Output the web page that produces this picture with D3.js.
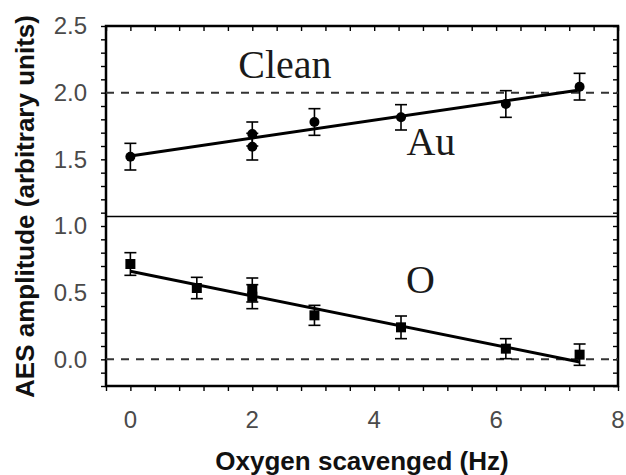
<!DOCTYPE html>
<html>
<head>
<meta charset="utf-8">
<script src="https://cdn.jsdelivr.net/npm/d3@7"></script>
<style>
  html, body { margin: 0; padding: 0; background: #fff; }
  svg { display: block; }
</style>
</head>
<body>
<svg id="chart" width="626" height="475"></svg>
<script>
// ---- data ----
const auX = [0, 2, 2, 3.02, 4.44, 6.16, 7.37];
const auY = [1.52, 1.69, 1.595, 1.78, 1.815, 1.915, 2.045];
const auErr = [0.1, 0.09, 0.1, 0.1, 0.095, 0.1, 0.1];
const auFit = [[0, 1.525], [7.37, 2.02]];

const oX = [0, 1.09, 2, 2, 3.02, 4.44, 6.16, 7.37];
const oY = [0.715, 0.535, 0.52, 0.47, 0.33, 0.24, 0.08, 0.035];
const oErr = [0.085, 0.08, 0.09, 0.09, 0.075, 0.085, 0.075, 0.08];
const oFit = [[0, 0.66], [7.37, -0.02]];

const refLines = [2.0, 0.0];
const dividerY = 1.077;

const xTickLabels = [0, 2, 4, 6, 8];
const yTickLabels = [0.0, 0.5, 1.0, 1.5, 2.0, 2.5];
const xLabel = "Oxygen scavenged (Hz)";
const yLabel = "AES amplitude (arbitrary units)";
const annotations = [
  { text: "Clean", x: 1.77, y: 2.108 },
  { text: "Au", x: 4.53, y: 1.533 },
  { text: "O", x: 4.52, y: 0.494 }
];

// ---- layout ----
const W = 626, H = 475;
const margin = { left: 106, top: 26, right: 8, bottom: 89 };
const x = d3.scaleLinear().domain([-0.4, 8]).range([margin.left, W - margin.right]);
const y = d3.scaleLinear().domain([-0.2, 2.5]).range([H - margin.bottom, margin.top]);

const svg = d3.select("#chart");

const xMinor = d3.range(-0.4, 8.001, 0.4).map(v => +v.toFixed(2));
const yMinor = d3.range(-0.2, 2.5001, 0.1).map(v => +v.toFixed(2));

const tickFont = "'Liberation Sans', Arial, sans-serif";

const gB = svg.append("g").attr("transform", `translate(0,${y.range()[0]})`)
  .call(d3.axisBottom(x).tickValues(xMinor).tickSize(5).tickFormat(""));
const gT = svg.append("g").attr("transform", `translate(0,${y.range()[1]})`)
  .call(d3.axisBottom(x).tickValues(xMinor).tickSize(5).tickFormat(""));
const gL = svg.append("g").attr("transform", `translate(${x.range()[0]},0)`)
  .call(d3.axisLeft(y).tickValues(yMinor).tickSize(5).tickFormat(""));
const gR = svg.append("g").attr("transform", `translate(${x.range()[1]},0)`)
  .call(d3.axisLeft(y).tickValues(yMinor).tickSize(5).tickFormat(""));

[gB, gT, gL, gR].forEach(g => {
  g.select(".domain").remove();
  g.selectAll(".tick line").attr("stroke", "#000").attr("stroke-width", 1.4);
});

svg.append("g").selectAll("text").data(xTickLabels).join("text")
  .attr("x", d => x(d)).attr("y", y.range()[0] + 42)
  .attr("text-anchor", "middle")
  .attr("font-family", tickFont).attr("font-size", 24).attr("fill", "#4a4a4a")
  .text(d => d3.format("d")(d));

svg.append("g").selectAll("text").data(yTickLabels).join("text")
  .attr("x", x.range()[0] - 19).attr("y", d => y(d))
  .attr("dy", "0.35em")
  .attr("text-anchor", "end")
  .attr("font-family", tickFont).attr("font-size", 24).attr("fill", "#4a4a4a")
  .text(d => d3.format(".1f")(d));

svg.append("rect")
  .attr("x", x.range()[0]).attr("y", y.range()[1])
  .attr("width", x.range()[1] - x.range()[0])
  .attr("height", y.range()[0] - y.range()[1])
  .attr("fill", "none").attr("stroke", "#000").attr("stroke-width", 2.5);

svg.append("line")
  .attr("x1", x.range()[0]).attr("x2", x.range()[1])
  .attr("y1", Math.round(y(dividerY)) + 0.5).attr("y2", Math.round(y(dividerY)) + 0.5)
  .attr("stroke", "#000").attr("stroke-width", 1.3);

svg.append("g").selectAll("line").data(refLines).join("line")
  .attr("x1", x.range()[0]).attr("x2", x.range()[1])
  .attr("y1", d => y(d)).attr("y2", d => y(d))
  .attr("stroke", "#333").attr("stroke-width", 2)
  .attr("stroke-dasharray", "8,7");

const line = d3.line().x(d => x(d[0])).y(d => y(d[1]));
[auFit, oFit].forEach(f => {
  svg.append("path").attr("d", line(f))
    .attr("fill", "none").attr("stroke", "#000").attr("stroke-width", 3);
});

function errorBars(xs, ys, es) {
  const g = svg.append("g").attr("stroke", "#000").attr("stroke-width", 1.6);
  xs.forEach((xv, i) => {
    const cx = x(xv), top = y(ys[i] + es[i]), bot = y(ys[i] - es[i]);
    g.append("line").attr("x1", cx).attr("x2", cx).attr("y1", top).attr("y2", bot);
    g.append("line").attr("x1", cx - 6).attr("x2", cx + 6).attr("y1", top).attr("y2", top);
    g.append("line").attr("x1", cx - 6).attr("x2", cx + 6).attr("y1", bot).attr("y2", bot);
  });
}
errorBars(auX, auY, auErr);
errorBars(oX, oY, oErr);

svg.append("g").selectAll("circle").data(auX.map((d, i) => [d, auY[i]])).join("circle")
  .attr("cx", d => x(d[0])).attr("cy", d => y(d[1])).attr("r", 5)
  .attr("fill", "#000");
svg.append("g").selectAll("rect").data(oX.map((d, i) => [d, oY[i]])).join("rect")
  .attr("x", d => x(d[0]) - 5).attr("y", d => y(d[1]) - 5)
  .attr("width", 10).attr("height", 10)
  .attr("fill", "#000");

svg.append("g").selectAll("text").data(annotations).join("text")
  .attr("x", d => x(d.x)).attr("y", d => y(d.y))
  .attr("font-family", "'Liberation Serif', 'Times New Roman', serif")
  .attr("font-size", 40).attr("fill", "#1a1a1a")
  .text(d => d.text);

svg.append("text")
  .attr("x", 362).attr("y", 470)
  .attr("text-anchor", "middle")
  .attr("font-family", tickFont).attr("font-weight", "bold")
  .attr("font-size", 26).attr("fill", "#111")
  .text(xLabel);

svg.append("text")
  .attr("transform", "translate(33.5,206.5) rotate(-90)")
  .attr("text-anchor", "middle")
  .attr("font-family", tickFont).attr("font-weight", "bold")
  .attr("font-size", 26).attr("fill", "#111")
  .text(yLabel);
</script>
</body>
</html>
